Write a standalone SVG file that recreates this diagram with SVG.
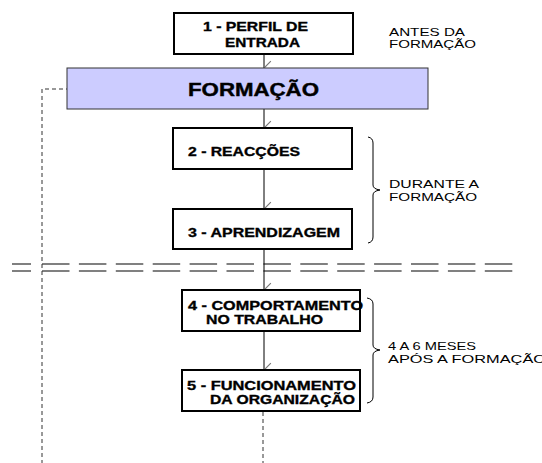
<svg xmlns="http://www.w3.org/2000/svg" width="542" height="463" viewBox="0 0 542 463">
<style>
.box{fill:#ffffff;stroke:#000000;stroke-width:2}
.main{fill:#ccccff;stroke:#333333;stroke-width:1}
.bt{font-family:"Liberation Sans",Arial,sans-serif;font-weight:bold;font-size:13px;fill:#000;stroke:#000;stroke-width:0.35}
.big{font-family:"Liberation Sans",Arial,sans-serif;font-weight:bold;font-size:18px;fill:#000;stroke:#000;stroke-width:0.4}
.note{font-family:"Liberation Sans",Arial,sans-serif;font-size:11px;fill:#000}
.conn{stroke:#000;stroke-width:1;fill:none}
.dash{stroke:#333;stroke-width:1;stroke-dasharray:4 3;fill:none}
.brace{stroke:#000;stroke-width:1;fill:none}
.sep{stroke:#808080;stroke-width:2;fill:none}
</style>
<defs>
<marker id="ah" markerWidth="16" markerHeight="10" refX="7" refY="7" markerUnits="userSpaceOnUse" orient="auto-start-reverse" viewBox="0 0 14 8">
<path d="M1,1 L7,7 L13,1" fill="none" stroke="#777" stroke-width="1"/>
</marker>
</defs>

<g id="separator">
<line class="sep" x1="12" y1="264" x2="31" y2="264"/>
<line class="sep" x1="12" y1="271" x2="31" y2="271"/>
<line class="sep" x1="42" y1="264" x2="513" y2="264" stroke-dasharray="27.5 9.4"/>
<line class="sep" x1="42" y1="271" x2="513" y2="271" stroke-dasharray="27.5 9.4"/>
</g>

<g id="connectors">
<line class="conn" x1="264" y1="54" x2="264" y2="68" marker-end="url(#ah)"/>
<line class="conn" x1="264" y1="109" x2="264" y2="128" marker-end="url(#ah)"/>
<line class="conn" x1="264" y1="169" x2="264" y2="209" marker-end="url(#ah)"/>
<line class="conn" x1="264" y1="249" x2="264" y2="290" marker-end="url(#ah)"/>
<line class="conn" x1="264" y1="331" x2="264" y2="370" marker-end="url(#ah)"/>
<line class="dash" x1="263" y1="412" x2="263" y2="463"/>
<polyline class="dash" points="70,89 42,89 42,463"/>
</g>

<g id="n1">
<rect class="box" x="174" y="13" width="179" height="41"/>
<text class="bt" x="203" y="31" textLength="105" lengthAdjust="spacingAndGlyphs">1 - PERFIL DE</text>
<text class="bt" x="225" y="47" textLength="75" lengthAdjust="spacingAndGlyphs">ENTRADA</text>
</g>

<g id="formacao">
<rect class="main" x="67" y="68" width="361" height="41"/>
<text class="big" x="188" y="96" textLength="131" lengthAdjust="spacingAndGlyphs">FORMAÇÃO</text>
</g>

<g id="n2">
<rect class="box" x="173" y="128" width="179" height="41"/>
<text class="bt" x="188" y="156" textLength="112" lengthAdjust="spacingAndGlyphs">2 - REACÇÕES</text>
</g>

<g id="n3">
<rect class="box" x="173" y="209" width="179" height="40"/>
<text class="bt" x="188" y="237" textLength="152" lengthAdjust="spacingAndGlyphs">3 - APRENDIZAGEM</text>
</g>

<g id="n4">
<rect class="box" x="182" y="290" width="178" height="41"/>
<text class="bt" x="188" y="310" textLength="175" lengthAdjust="spacingAndGlyphs">4 - COMPORTAMENTO</text>
<text class="bt" x="206" y="324" textLength="117" lengthAdjust="spacingAndGlyphs">NO TRABALHO</text>
</g>

<g id="n5">
<rect class="box" x="182" y="370" width="178" height="41"/>
<text class="bt" x="187" y="390" textLength="169" lengthAdjust="spacingAndGlyphs">5 - FUNCIONAMENTO</text>
<text class="bt" x="210" y="404" textLength="145" lengthAdjust="spacingAndGlyphs">DA ORGANIZAÇÃO</text>
</g>

<g id="note-antes">
<text class="note" x="389" y="35.5" textLength="76" lengthAdjust="spacingAndGlyphs">ANTES DA</text>
<text class="note" x="389" y="48" textLength="87" lengthAdjust="spacingAndGlyphs">FORMAÇÃO</text>
</g>

<g id="note-durante">
<path class="brace" d="M368,137 Q373,138 373,143 L373,185 Q373,189 380,190 Q373,191 373,195 L373,237 Q373,242 368,243"/>
<text class="note" x="389" y="188" textLength="90" lengthAdjust="spacingAndGlyphs">DURANTE A</text>
<text class="note" x="389" y="201" textLength="88" lengthAdjust="spacingAndGlyphs">FORMAÇÃO</text>
</g>

<g id="note-apos">
<path class="brace" d="M367,298 Q373,299 373,304 L373,345 Q373,349 380,350 Q373,351 373,355 L373,397 Q373,402 367,403"/>
<text class="note" x="388" y="350" textLength="88" lengthAdjust="spacingAndGlyphs">4 A 6 MESES</text>
<text class="note" x="388" y="362.5" textLength="158" lengthAdjust="spacingAndGlyphs">APÓS A FORMAÇÃO</text>
</g>
</svg>
